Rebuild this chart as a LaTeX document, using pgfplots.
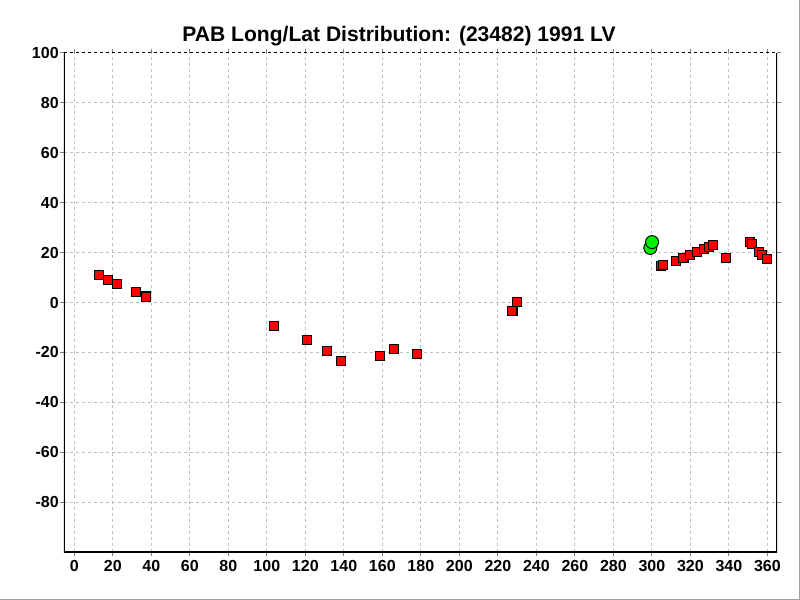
\documentclass[border=0pt]{standalone}
\usepackage{pgfplots}
\pgfplotsset{compat=1.18}
\usepackage{fontspec}
\setmainfont{Liberation Sans}
\definecolor{gridgray}{RGB}{192,192,192}
\definecolor{mkred}{RGB}{255,0,0}
\definecolor{mkgreen}{RGB}{0,240,0}
\definecolor{framegray}{RGB}{160,160,160}
\begin{document}
\begin{tikzpicture}
\path[use as bounding box] (-48pt,-36pt) rectangle (552pt,414pt);
\begin{axis}[
  at={(0,0)}, anchor=south west,
  scale only axis, width=534.75pt, height=374.25pt,
  xmin=-5.35, xmax=365, ymin=-100, ymax=100,
  xtick={0,20,...,360}, ytick={-80,-60,...,100},
  grid=major,
  major grid style={dash pattern=on 2.25pt off 2.25pt, color=gridgray, line width=0.75pt},
  axis line style={draw=none},
  tick align=outside, major tick length=3.3pt,
  tick style={color=gray, line width=0.75pt},
  ticklabel style={font=\fontsize{12}{12}\selectfont\bfseries},
  xticklabel style={inner sep=2.8pt},
  yticklabel style={inner sep=0.5pt},
  /pgf/number format/assume math mode=true,
  /pgf/number format/1000 sep={},
]
\draw[black, line width=1pt] (rel axis cs:0,1) -- (rel axis cs:0,0) -- (rel axis cs:1,0) -- (rel axis cs:1,1);
\draw[black, line width=0.75pt, dash pattern=on 2.25pt off 2.25pt] (rel axis cs:0,1) -- (rel axis cs:1,1);
\addplot[only marks, mark=square*, mark size=3.4pt, mark options={fill=mkred, draw=black, line width=0.8pt}] table {
x y
13.0 10.9
17.7 8.9
22.3 7.3
32.2 4.2
37.2 2.4
103.9 -9.3
121.0 -14.9
131.4 -19.4
138.7 -23.4
159.0 -21.4
166.2 -18.5
178.0 -20.8
227.6 -3.4
230.1 0.3
304.6 14.7
306.0 15.1
312.4 16.7
316.4 18.0
319.6 18.9
323.6 20.4
326.9 21.4
329.5 22.1
331.6 22.9
338.3 18.0
350.8 24.1
351.8 23.3
355.5 20.4
357.4 19.0
359.6 17.5
};
\addplot[only marks, mark=*, mark size=4.9pt, mark options={fill=mkgreen, draw=black, line width=0.75pt}] table {
x y
299.2 21.9
300.1 24.2
};
\end{axis}
\node[font=\fontsize{15.8}{18}\selectfont\bfseries] at (251.25pt,387pt) {PAB Long/Lat Distribution: (23482) 1991 LV};
\draw[framegray, line width=0.75pt] (551.6pt,-36pt) -- (551.6pt,414pt);
\draw[framegray, line width=0.75pt] (-48pt,-35.6pt) -- (552pt,-35.6pt);
\end{tikzpicture}
\end{document}
